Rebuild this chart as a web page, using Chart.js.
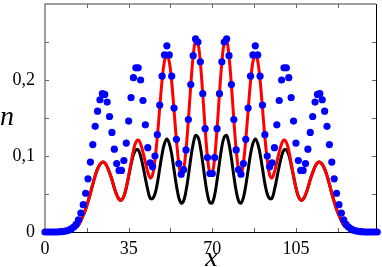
<!DOCTYPE html>
<html>
<head>
<meta charset="utf-8">
<script src="https://cdn.jsdelivr.net/npm/chart.js@4/dist/chart.umd.min.js"></script>
<style>
  body { margin: 0; background: #fff; }
  canvas { display: block; }
</style>
</head>
<body>
<canvas id="chart" width="382" height="267"></canvas>
<script>
// n on each lattice site (site index = x)
const blueDots = [
  0, 0, 0, 0, 0, 0, 0.0003, 0.0005, 0.001, 0.0015,
  0.0025, 0.004, 0.0065, 0.010, 0.016, 0.025, 0.036, 0.051, 0.070, 0.092,
  0.115, 0.139, 0.159, 0.174, 0.182, 0.181, 0.171, 0.152, 0.131, 0.109,
  0.090, 0.081, 0.081, 0.094, 0.117, 0.146, 0.177, 0.203, 0.216, 0.216,
  0.200, 0.173, 0.141, 0.111, 0.091, 0.086, 0.100, 0.128, 0.167, 0.205,
  0.233, 0.245, 0.233, 0.205, 0.163, 0.122, 0.090, 0.076, 0.082, 0.108,
  0.148, 0.194, 0.232, 0.254, 0.250, 0.224, 0.182, 0.136, 0.098, 0.077,
  0.077, 0.098, 0.136, 0.182, 0.224, 0.250, 0.254, 0.232, 0.194, 0.148,
  0.108, 0.082, 0.076, 0.090, 0.122, 0.163, 0.205, 0.233, 0.245, 0.233,
  0.205, 0.167, 0.128, 0.100, 0.086, 0.091, 0.111, 0.141, 0.173, 0.200,
  0.216, 0.216, 0.203, 0.177, 0.146, 0.117, 0.094, 0.081, 0.081, 0.090,
  0.109, 0.131, 0.152, 0.171, 0.181, 0.182, 0.174, 0.159, 0.139, 0.115,
  0.092, 0.070, 0.051, 0.036, 0.025, 0.016, 0.010, 0.0065, 0.004, 0.0025,
  0.0015, 0.001, 0.0005, 0.0003, 0, 0, 0, 0, 0, 0
];

const redLine = [
  0, 0, 0, 0, 0, 0, 0, 0.0002, 0.0005, 0.001,
  0.0018, 0.003, 0.0045, 0.006, 0.009, 0.015, 0.022, 0.030, 0.040, 0.051,
  0.063, 0.074, 0.083, 0.089, 0.092, 0.091, 0.086, 0.078, 0.069, 0.058,
  0.049, 0.043, 0.042, 0.047, 0.058, 0.074, 0.091, 0.107, 0.118, 0.121,
  0.116, 0.105, 0.092, 0.079, 0.071, 0.075, 0.095, 0.125, 0.163, 0.200,
  0.225, 0.232, 0.224, 0.198, 0.160, 0.121, 0.090, 0.075, 0.082, 0.108,
  0.148, 0.193, 0.231, 0.252, 0.249, 0.223, 0.182, 0.136, 0.098, 0.077,
  0.077, 0.098, 0.136, 0.182, 0.223, 0.249, 0.252, 0.231, 0.193, 0.148,
  0.108, 0.082, 0.075, 0.090, 0.121, 0.160, 0.198, 0.224, 0.232, 0.225,
  0.200, 0.163, 0.125, 0.095, 0.075, 0.071, 0.079, 0.092, 0.105, 0.116,
  0.121, 0.118, 0.107, 0.091, 0.074, 0.058, 0.047, 0.042, 0.043, 0.049,
  0.058, 0.069, 0.078, 0.086, 0.091, 0.092, 0.089, 0.083, 0.074, 0.063,
  0.051, 0.040, 0.030, 0.022, 0.015, 0.009, 0.006, 0.0045, 0.003, 0.0018,
  0.001, 0.0005, 0.0002, 0, 0, 0, 0, 0, 0, 0
];

const blackLine = [
  0, 0, 0, 0, 0, 0, 0, 0.0002, 0.0005, 0.001,
  0.0018, 0.003, 0.0045, 0.006, 0.009, 0.015, 0.022, 0.030, 0.040, 0.051,
  0.063, 0.074, 0.083, 0.089, 0.092, 0.091, 0.086, 0.078, 0.069, 0.058,
  0.049, 0.043, 0.042, 0.047, 0.0585, 0.073, 0.0885, 0.1015, 0.108, 0.108,
  0.100, 0.0865, 0.0705, 0.0555, 0.0445, 0.044, 0.050, 0.064, 0.0835, 0.1025,
  0.1165, 0.1225, 0.1165, 0.1025, 0.0815, 0.061, 0.045, 0.038, 0.041, 0.054,
  0.074, 0.097, 0.116, 0.127, 0.125, 0.112, 0.091, 0.068, 0.049, 0.0385,
  0.0385, 0.049, 0.068, 0.091, 0.112, 0.125, 0.127, 0.116, 0.097, 0.074,
  0.054, 0.041, 0.038, 0.045, 0.061, 0.0815, 0.1025, 0.1165, 0.1225, 0.1165,
  0.1025, 0.0835, 0.064, 0.050, 0.044, 0.0445, 0.0555, 0.0705, 0.0865, 0.100,
  0.108, 0.108, 0.1015, 0.0885, 0.073, 0.0585, 0.047, 0.042, 0.043, 0.049,
  0.058, 0.069, 0.078, 0.086, 0.091, 0.092, 0.089, 0.083, 0.074, 0.063,
  0.051, 0.040, 0.030, 0.022, 0.015, 0.009, 0.006, 0.0045, 0.003, 0.0018,
  0.001, 0.0005, 0.0002, 0, 0, 0, 0, 0, 0, 0
];

const xLabels = [0, 35, 70, 105];
const yLabels = [0, 0.1, 0.2];
const xTickMarks = [17.5, 35, 52.5, 70, 87.5, 105, 122.5];
const yTickMarks = [0.05, 0.1, 0.15, 0.2, 0.25];
const xMax = 138.5;
const yMax = 0.3;

const toPoints = arr => arr.map((v, i) => ({ x: i, y: v }));
const tickFont = { family: '"Liberation Serif", "DejaVu Serif", serif', size: 18 };

// frame, inward ticks and the axis letters
const framePlugin = {
  id: 'frame',
  beforeDatasetsDraw(chart) {
    const { ctx, chartArea: a, scales } = chart;
    ctx.save();
    ctx.lineWidth = 1;
    ctx.strokeStyle = '#000';
    ctx.beginPath();
    ctx.moveTo(a.left, a.bottom + 0.5);
    ctx.lineTo(a.right, a.bottom + 0.5);
    ctx.moveTo(a.right + 0.5, a.bottom);
    ctx.lineTo(a.right + 0.5, a.top);
    ctx.stroke();
    ctx.strokeStyle = '#808080';
    ctx.lineWidth = 1.5;
    ctx.beginPath();
    ctx.moveTo(a.left, a.bottom);
    ctx.lineTo(a.left, a.top);
    ctx.lineTo(a.right, a.top);
    ctx.stroke();

    ctx.strokeStyle = '#666';
    ctx.lineWidth = 1;
    ctx.beginPath();
    xTickMarks.forEach(v => {
      const px = Math.round(scales.x.getPixelForValue(v)) + 0.5;
      ctx.moveTo(px, a.bottom);
      ctx.lineTo(px, a.bottom - 4);
      ctx.moveTo(px, a.top);
      ctx.lineTo(px, a.top + 4);
    });
    yTickMarks.forEach(v => {
      const py = Math.round(scales.y.getPixelForValue(v)) + 0.5;
      ctx.moveTo(a.left, py);
      ctx.lineTo(a.left + 4, py);
      ctx.moveTo(a.right, py);
      ctx.lineTo(a.right - 4, py);
    });
    ctx.stroke();
    ctx.restore();
  },
  afterDraw(chart) {
    const { ctx, chartArea: a } = chart;
    ctx.save();
    ctx.fillStyle = '#000';
    ctx.font = 'italic 28px "Liberation Serif", serif';
    ctx.textAlign = 'left';
    ctx.textBaseline = 'alphabetic';
    ctx.fillText('n', 0, (a.top + a.bottom) / 2 + 7);
    ctx.textAlign = 'center';
    ctx.fillText('x', (a.left + a.right) / 2 + 1, chart.height - 1);
    ctx.restore();
  }
};

new Chart(document.getElementById('chart'), {
  type: 'scatter',
  data: {
    datasets: [{
      label: 'sites',
      data: toPoints(blueDots),
      showLine: false,
      pointRadius: 3.6,
      pointBackgroundColor: '#0000ff',
      pointBorderWidth: 0,
      clip: false
    }, {
      label: 'red',
      data: toPoints(redLine),
      showLine: true,
      borderColor: '#ff0000',
      borderWidth: 3,
      pointRadius: 0,
      tension: 0.4
    }, {
      label: 'black',
      data: toPoints(blackLine),
      showLine: true,
      borderColor: '#000000',
      borderWidth: 3,
      pointRadius: 0,
      tension: 0.4
    }]
  },
  options: {
    responsive: false,
    animation: false,
    devicePixelRatio: 1,
    layout: { padding: { left: 0, right: 6, top: 1, bottom: 0 } },
    plugins: { legend: { display: false }, tooltip: { enabled: false } },
    scales: {
      x: {
        type: 'linear',
        min: 0,
        max: xMax,
        grid: { display: false },
        border: { display: false },
        ticks: { font: tickFont, color: '#000', padding: -2, maxRotation: 0, autoSkip: false },
        afterBuildTicks: s => { s.ticks = xLabels.map(v => ({ value: v })); },
        afterFit: s => { s.height = 35; s.paddingLeft = 0; s.paddingRight = 0; }
      },
      y: {
        min: 0,
        max: yMax,
        grid: { display: false },
        border: { display: false },
        ticks: {
          font: tickFont,
          color: '#000',
          padding: 2,
          callback: v => String(v).replace('.', ',')
        },
        afterBuildTicks: s => { s.ticks = yLabels.map(v => ({ value: v })); },
        afterFit: s => { s.width = 45; s.paddingTop = 0; s.paddingBottom = 0; }
      }
    }
  },
  plugins: [framePlugin]
});
</script>
</body>
</html>
